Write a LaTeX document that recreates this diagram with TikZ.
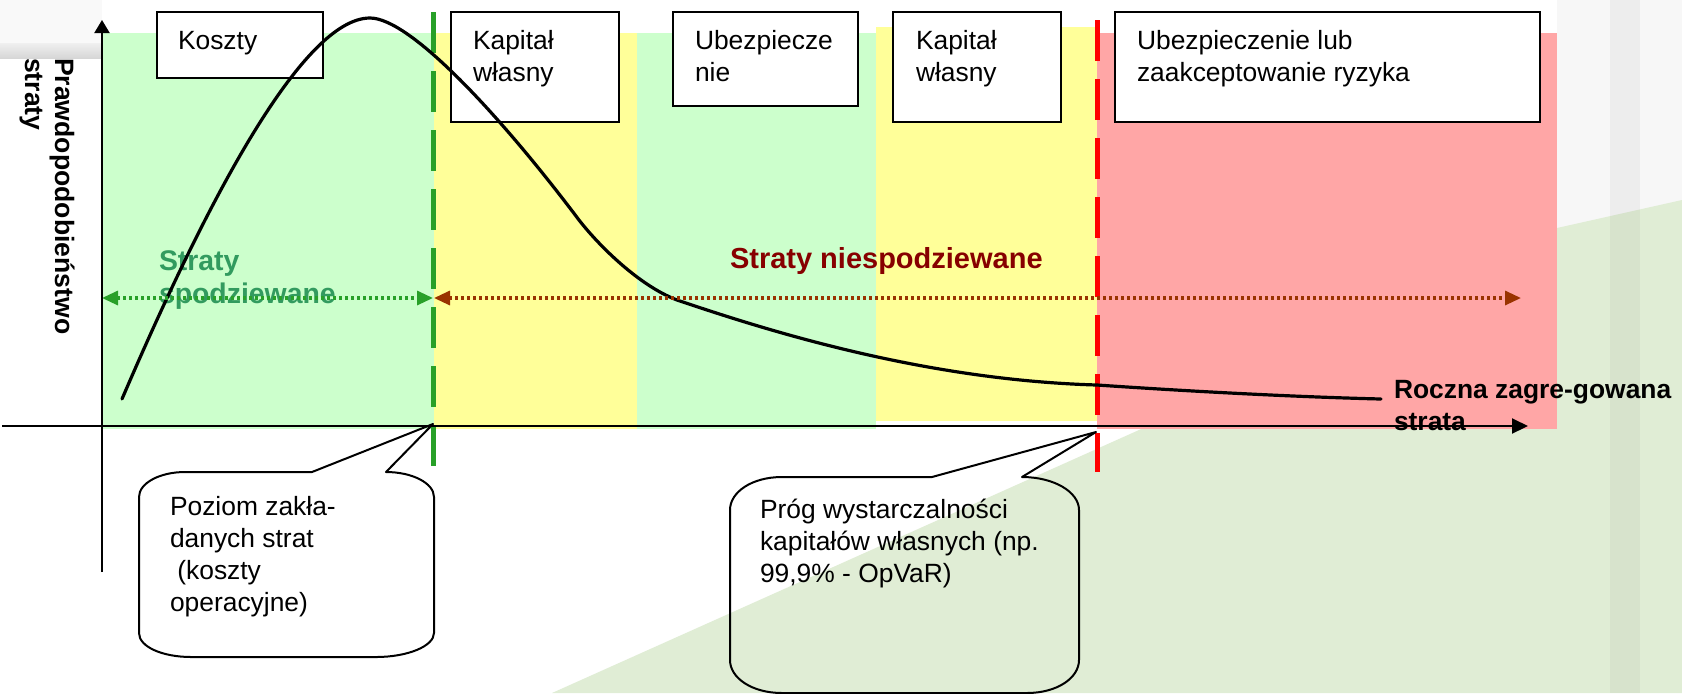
\documentclass[tikz,border=0pt]{standalone}
\usepackage{fontspec}
\setmainfont{Liberation Sans}
\usetikzlibrary{arrows.meta}

\definecolor{zoneGreen}{RGB}{204,255,204}
\definecolor{zoneYellow}{RGB}{255,255,153}
\definecolor{zoneRed}{RGB}{255,166,166}
\definecolor{lineGreen}{RGB}{40,160,40}
\definecolor{lineRed}{RGB}{255,0,0}
\definecolor{expGreen}{RGB}{50,155,95}
\definecolor{unexpRed}{RGB}{135,0,0}
\definecolor{arrowBrown}{RGB}{153,51,0}
\definecolor{slideGreen}{RGB}{224,237,213}

% left-aligned stacked lines, baseline on the first line
\newcommand{\stackedlines}[1]{\begin{tabular}[t]{@{}l@{}}#1\end{tabular}}

\begin{document}
\begin{tikzpicture}[x=0.5pt,y=-0.5pt,
  every node/.style={inner sep=0pt, outer sep=0pt},
  labelbox/.style={draw=black, line width=0.9pt, fill=white, anchor=north west},
  plain/.style={anchor=base west, font=\fontsize{13.2}{16}\selectfont},
  axisline/.style={line width=1pt, -{Triangle[length=8pt,width=7.5pt]}},
  threshold/.style={line width=2.5pt, dash pattern=on 20.5pt off 9pt},
  dotarrow/.style={line width=1.6pt, dash pattern=on 1.5pt off 1.5pt,
    {Triangle[length=8pt,width=7pt]}-{Triangle[length=8pt,width=7pt]}},
  callout/.style={draw=black, line width=1pt, line join=round},
]
% page and slide background
\fill[white] (0,0) rectangle (1682,693);
\useasboundingbox (0,0) rectangle (1682,693);
\fill[gray!5] (0,0) rectangle (102,43);
\shade[top color=gray!12, bottom color=gray!32] (0,43) rectangle (102,58);
\fill[gray!6] (1557,0) rectangle (1682,240);
\fill[slideGreen] (552,693) -- (1139,430) -- (1557,228) -- (1682,200) -- (1682,693) -- cycle;
\fill[black, opacity=0.04] (1610,0) rectangle (1640,693);

% risk zones
\fill[zoneGreen]  (102,33)  rectangle (434,429);
\fill[zoneYellow] (434,33)  rectangle (637,429);
\fill[zoneGreen]  (637,33)  rectangle (876,429);
\fill[zoneYellow] (876,27)  rectangle (1097,421);
\fill[zoneRed]    (1097,33) rectangle (1557,429);

% thresholds
\coordinate (gTop) at (433,12);
\coordinate (gBot) at (433,466);
\coordinate (rTop) at (1097,20);
\coordinate (rBot) at (1097,472);
\draw[threshold, lineGreen] (gTop) -- (gBot);
\draw[threshold, lineRed] (rTop) -- (rBot);

% zone labels
\node[font=\fontsize{14.2}{16.5}\selectfont\bfseries, text=expGreen, anchor=base west]
  (expLbl) at (159,270) {\stackedlines{Straty\\spodziewane}};
\node[font=\fontsize{14.5}{17}\selectfont\bfseries, text=unexpRed, anchor=base west]
  (unexpLbl) at (730,268) {Straty niespodziewane};
\node[font=\fontsize{13.2}{16}\selectfont\bfseries, anchor=base west]
  (xLbl) at (1394,398) {\stackedlines{Roczna zagre-gowana\\strata}};
\node[font=\fontsize{13.3}{15}\selectfont\bfseries, anchor=base west, rotate=-90]
  (yLbl) at (55,58) {\stackedlines{Prawdopodobieństwo\\straty}};

% boxes naming the means of covering losses
\node[labelbox, minimum width=83pt, minimum height=33pt] (bKoszty) at (157,12) {};
\node[labelbox, minimum width=84pt, minimum height=55pt] (bKap1) at (451,12) {};
\node[labelbox, minimum width=92.5pt, minimum height=47pt] (bUbez) at (673,12) {};
\node[labelbox, minimum width=84pt, minimum height=55pt] (bKap2) at (893,12) {};
\node[labelbox, minimum width=212.5pt, minimum height=55pt] (bUbezRyz) at (1115,12) {};
\node[plain] (tKoszty) at (178,49) {Koszty};
\node[plain] (tKap1) at (473,49) {\stackedlines{Kapitał\\własny}};
\node[plain] (tUbez) at (695,49) {\stackedlines{Ubezpiecze\\nie}};
\node[plain] (tKap2) at (916,49) {\stackedlines{Kapitał\\własny}};
\node[plain] (tUbezRyz) at (1137,49) {\stackedlines{Ubezpieczenie lub\\zaakceptowanie ryzyka}};

% loss distribution
\coordinate (cStart) at (122,399);
\coordinate (cPeak) at (370,18);
\coordinate (cBend) at (579,220);
\coordinate (cKnee) at (677,300);
\coordinate (cRed) at (1097,385);
\coordinate (cEnd) at (1381,399);
\draw[line width=1.6pt, line cap=round]
  (cStart) .. controls (200,217) and (300,18) .. (cPeak)
  .. controls (410,18) and (500,115) .. (cBend)
  .. controls (600,247) and (640,286) .. (cKnee)
  .. controls (760,328) and (920,380) .. (cRed)
  .. controls (1200,392) and (1300,397) .. (cEnd);

% ranges of expected and unexpected losses
\coordinate (eL) at (102,298);
\coordinate (eR) at (433,298);
\coordinate (uL) at (434,298);
\coordinate (uR) at (1521,298);
\draw[dotarrow, lineGreen] (eL) -- (eR);
\draw[dotarrow, arrowBrown] (uL) -- (uR);

% axes
\coordinate (yBot) at (102,572);
\coordinate (yTop) at (102,20);
\coordinate (xL) at (2,426);
\coordinate (xR) at (1528,426);
\draw[axisline, -{Triangle[length=6.5pt,width=7.5pt]}] (yBot) -- (yTop);
\draw[axisline] (xL) -- (xR);

% callouts
\coordinate (tip1) at (433,424);
\coordinate (tip2) at (1096,432);
\draw[callout] (139,497) -- (139,633) .. controls (139,647) and (163,657) .. (191,657)
  -- (376,657) .. controls (408,657) and (434,646) .. (434,633)
  -- (434,497) .. controls (434,483) and (412,472) .. (386,472)
  -- (tip1) -- (312,472) -- (185,472) .. controls (160,472) and (139,483) .. (139,497) -- cycle;
\node[plain] (c1text) at (170,515)
  {\stackedlines{Poziom zakła-\\danych strat\\\ (koszty\\operacyjne)}};

\draw[callout] (730,510) -- (730,660) .. controls (730,678) and (752,693) .. (782,693)
  -- (1027,693) .. controls (1057,693) and (1079,678) .. (1079,660)
  -- (1079,510) .. controls (1079,492) and (1054,477) .. (1022,477)
  -- (tip2) -- (932,477) -- (782,477) .. controls (752,477) and (730,492) .. (730,510) -- cycle;
\node[plain] (c2text) at (760,518)
  {\stackedlines{Próg wystarczalności\\kapitałów własnych (np.\\99,9\% - OpVaR)}};
\end{tikzpicture}
\end{document}
